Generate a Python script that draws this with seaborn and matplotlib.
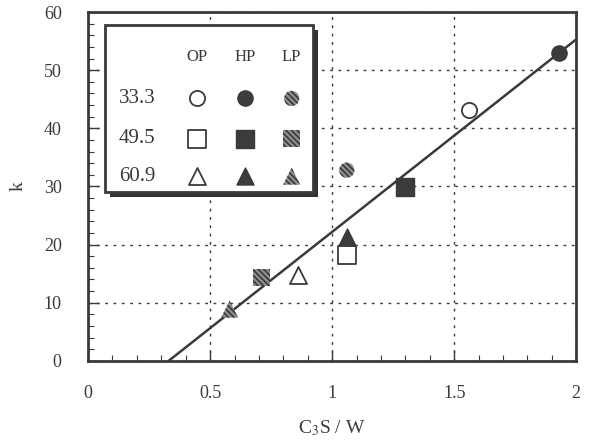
import numpy as np
import pandas as pd
import matplotlib
matplotlib.use("Agg")
import matplotlib.pyplot as plt
import seaborn as sns
from matplotlib.patches import Rectangle

# C3S/W and k values
cs_w_op = [1.56, 1.06, 0.86]
k_op = [43.2, 18.2, 14.8]
cs_w_hp = [1.93, 1.30, 1.06]
k_hp = [52.9, 29.9, 21.3]
cs_w_lp = [1.06, 0.71, 0.58]
k_lp = [32.8, 14.4, 8.9]

# regression line end points
fit_x = [0.33, 2.0]
fit_k = [0.0, 55.3]

row_labels = ["33.3", "49.5", "60.9"]
col_labels = ["OP", "HP", "LP"]
row_markers = ["o", "s", "^"]


def main():
    sns.set_style("ticks")
    ink = "#3a3a3a"
    plt.rcParams.update({
        "font.family": ["Liberation Serif", "DejaVu Serif"],
        "mathtext.fontset": "stix",
        "xtick.direction": "in",
        "ytick.direction": "in",
        "xtick.major.size": 8,
        "ytick.major.size": 8,
        "xtick.minor.size": 4,
        "ytick.minor.size": 4,
        "xtick.major.width": 1.0,
        "ytick.major.width": 1.0,
        "xtick.minor.width": 0.8,
        "ytick.minor.width": 0.8,
        "xtick.minor.visible": True,
        "ytick.minor.visible": True,
        "xtick.color": ink,
        "ytick.color": ink,
    })

    fig = plt.figure(figsize=(5.91, 4.45), dpi=100)
    ax = fig.add_axes([0.149, 0.189, 0.826, 0.784])

    sns.lineplot(x=fit_x, y=fit_k, ax=ax, color=ink, linewidth=1.8)

    sizes = {"o": 120, "s": 150, "^": 150}
    lp_face = "#8c8c8c"
    lp_hatch = "#2e2e2e"
    for i, m in enumerate(row_markers):
        sns.scatterplot(x=[cs_w_op[i]], y=[k_op[i]], ax=ax, marker=m, s=sizes[m],
                        facecolor="white", edgecolor=ink, linewidth=1.3, zorder=3)
        sns.scatterplot(x=[cs_w_hp[i]], y=[k_hp[i]], ax=ax, marker=m, s=sizes[m],
                        color="#3c3c3c", edgecolor=ink, linewidth=1.0, zorder=3)
        sns.scatterplot(x=[cs_w_lp[i]], y=[k_lp[i]], ax=ax, marker=m, s=sizes[m],
                        facecolor=lp_face, edgecolor=lp_hatch, hatch="\\\\\\\\\\\\",
                        linewidth=0, zorder=3)

    ax.set_xlim(0, 2)
    ax.set_ylim(0, 60)
    ax.set_xticks([0, 0.5, 1, 1.5, 2])
    ax.set_xticklabels(["0", "0.5", "1", "1.5", "2"])
    ax.set_yticks(np.arange(0, 61, 10))
    ax.set_xticks(np.arange(0, 2.01, 0.1), minor=True)
    ax.set_yticks(np.arange(0, 61, 2), minor=True)
    ax.tick_params(which="both", direction="in", top=False, right=False,
                   bottom=True, left=True)
    ax.tick_params(axis="x", which="major", labelsize=13, labelcolor=ink, pad=17)
    ax.tick_params(axis="y", which="major", labelsize=13, labelcolor=ink, pad=19)
    ax.grid(True, which="major", linestyle=(0, (2, 4)), color=ink, linewidth=1.0)
    for side in ["left", "right", "top", "bottom"]:
        ax.spines[side].set_visible(True)
        ax.spines[side].set_linewidth(2)
        ax.spines[side].set_color(ink)

    ax.set_xlabel("C$_3$S / W", fontsize=14, color=ink, labelpad=12)
    ax.set_ylabel("k", fontsize=14, color=ink, labelpad=12)

    # boxed legend table
    lx0, lx1, ly0, ly1 = 0.035, 0.461, 0.484, 0.963
    shadow = Rectangle((lx0 + 0.010, ly0 - 0.014), lx1 - lx0, ly1 - ly0,
                       transform=ax.transAxes, facecolor="#333333",
                       edgecolor="none", zorder=5)
    box = Rectangle((lx0, ly0), lx1 - lx0, ly1 - ly0, transform=ax.transAxes,
                    facecolor="white", edgecolor=ink, linewidth=2, zorder=6)
    ax.add_patch(shadow)
    ax.add_patch(box)

    leg = ax.inset_axes([lx0, ly0, lx1 - lx0, ly1 - ly0], zorder=7)
    leg.set_xlim(0, 1)
    leg.set_ylim(0, 1)
    leg.axis("off")
    col_x = [0.44, 0.673, 0.897]
    row_y = [0.56, 0.32, 0.095]
    for j, c in enumerate(col_labels):
        leg.text(col_x[j], 0.81, c, ha="center", va="center", fontsize=12, color=ink)
    for i, r in enumerate(row_labels):
        leg.text(0.155, row_y[i], r, ha="center", va="center", fontsize=15, color=ink)
        m = row_markers[i]
        leg.scatter(col_x[0], row_y[i], marker=m, s=sizes[m], facecolor="white",
                    edgecolor=ink, linewidth=1.3)
        leg.scatter(col_x[1], row_y[i], marker=m, s=sizes[m], color="#3c3c3c",
                    edgecolor=ink, linewidth=1.0)
        leg.scatter(col_x[2], row_y[i], marker=m, s=sizes[m], facecolor=lp_face,
                    edgecolor=lp_hatch, hatch="\\\\\\\\\\\\", linewidth=0)

    fig.savefig("out.png", dpi=100)
    plt.close(fig)


if __name__ == "__main__":
    main()
